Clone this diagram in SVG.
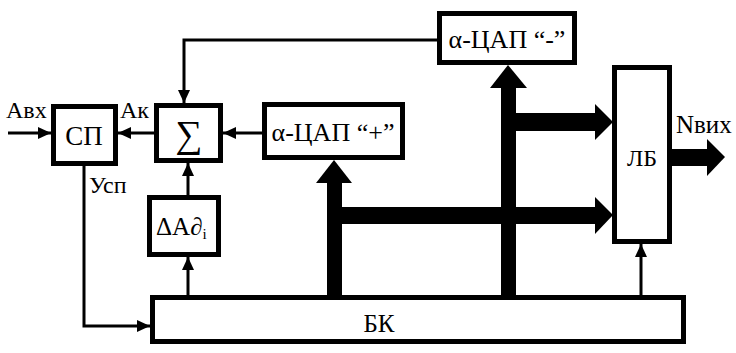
<svg xmlns="http://www.w3.org/2000/svg" width="736" height="353" viewBox="0 0 736 353">
<defs>
<marker id="ah" markerUnits="userSpaceOnUse" markerWidth="14" markerHeight="14" viewBox="0 0 14 14" refX="13" refY="7" orient="auto">
<path d="M0,1 L13,7 L0,13 Z" fill="#000"/>
</marker>
</defs>
<style>
.box{fill:#fff;stroke:#000;stroke-width:5}
.ln{fill:none;stroke:#000;stroke-width:3;marker-end:url(#ah)}
.t{font-family:"Liberation Serif","DejaVu Serif",serif;fill:#000;text-anchor:middle}
.tl{font-family:"Liberation Serif","DejaVu Serif",serif;fill:#000}
.bus{fill:#000;stroke:none}
</style>
<rect width="736" height="353" fill="#fff"/>
<g id="connectors">
<path class="ln" d="M8,133 H51"/>
<path class="ln" d="M154,133 H118"/>
<path class="ln" d="M262,133 H223"/>
<path class="ln" d="M437,40 H184 V103"/>
<path class="ln" d="M84,166 V326 H150"/>
<path class="ln" d="M188,295 V257"/>
<path class="ln" d="M188,195 V163"/>
<path class="ln" d="M641,295 V244"/>
<g class="bus">
<rect x="327" y="182" width="15" height="114"/>
<polygon points="316,183 352,183 334,160"/>
<rect x="334" y="207" width="262" height="17"/>
<polygon points="595,197 595,234 613,215"/>
<rect x="501" y="87" width="15" height="209"/>
<polygon points="490,88 527,88 508,65"/>
<rect x="508" y="113" width="88" height="18"/>
<polygon points="595,104 595,140 613,122"/>
<rect x="671" y="149" width="37" height="17"/>
<polygon points="707,139 707,176 725,157"/>
</g>
</g>
<g id="sp"><rect class="box" x="53.5" y="106.5" width="62" height="57"/><text class="t" x="84" y="145" font-size="27">СП</text></g>
<g id="sum"><rect class="box" x="156.5" y="105.5" width="64" height="55"/><text class="t" x="189" y="147" font-size="38">∑</text></g>
<g id="dad"><rect class="box" x="149.5" y="197.5" width="69" height="57"/><text class="tl" x="156" y="235" font-size="25">ΔA∂<tspan font-size="15" dy="4">i</tspan></text></g>
<g id="dac_plus"><rect class="box" x="264.5" y="104.5" width="138" height="53"/><text class="t" x="333" y="141" font-size="26">α-ЦАП “+”</text></g>
<g id="dac_minus"><rect class="box" x="439.5" y="13.5" width="135" height="49"/><text class="t" x="507" y="48" font-size="26">α-ЦАП “-”</text></g>
<g id="lb"><rect class="box" x="614.5" y="67.5" width="55" height="174"/><text class="t" x="642" y="166" font-size="24">ЛБ</text></g>
<g id="bk"><rect class="box" x="152.5" y="297.5" width="531" height="44"/><text class="t" x="379" y="332" font-size="25">БК</text></g>
<g id="labels">
<text class="tl" x="6" y="118" font-size="24">Авх</text>
<text class="tl" x="120" y="118" font-size="24">Ак</text>
<text class="tl" x="89" y="193" font-size="24">Усп</text>
<text class="tl" x="676" y="133" font-size="25">Nвих</text>
</g>
</svg>
